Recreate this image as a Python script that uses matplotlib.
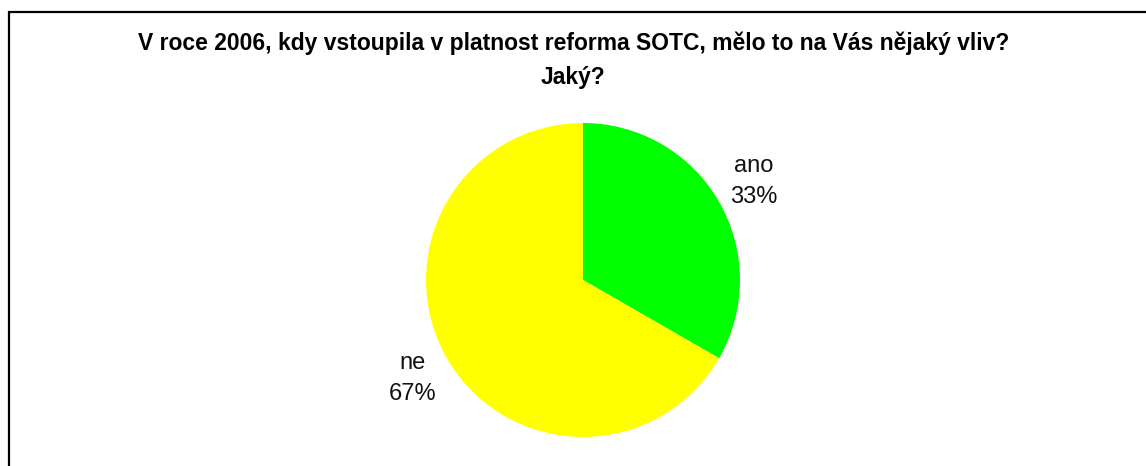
import matplotlib.pyplot as plt
from matplotlib.patches import Rectangle

labels = ["ano", "ne"]
values = [33.3, 66.7]
colors = ["#00FF00", "#FFFF00"]
title = "V roce 2006, kdy vstoupila v platnost reforma SOTC, mělo to na Vás nějaký vliv?\nJaký?"

W, H = 1146, 466
plt.rcParams['font.family'] = ['Liberation Sans', 'DejaVu Sans']

fig = plt.figure(figsize=(W / 100, H / 100), dpi=100)

# frame around the chart area (right and bottom edges fall outside the image)
frame = Rectangle((8.5 / W, -0.1), 1.2, (H - 11.5) / H + 0.1,
                  transform=fig.transFigure, fill=False, edgecolor="black",
                  linewidth=1.6)
fig.patches.append(frame)

# pie: centre (583, 280) px, radius 157 px
r = 157
ax = fig.add_axes([(583 - r) / W, (H - 280 - r) / H, 2 * r / W, 2 * r / H])
total = sum(values)
texts = [f"{l}\n{v / total * 100:.0f}%" for l, v in zip(labels, values)]
wedges, lbls = ax.pie(values, labels=texts, colors=colors, startangle=90,
                      counterclock=False, labeldistance=1.255,
                      wedgeprops=dict(linewidth=0),
                      textprops=dict(fontsize=17, color="#111111", linespacing=1.5))
for t in lbls:
    t.set_ha("center")
    t.set_va("center")
ax.set_xlim(-1, 1)
ax.set_ylim(-1, 1)
ax.set_aspect("equal")

fig.text(573.5 / W, (H - 60) / H, title, ha="center", va="center",
         fontsize=16.5, fontweight="bold", linespacing=1.6)

fig.savefig("out.png", dpi=100)
